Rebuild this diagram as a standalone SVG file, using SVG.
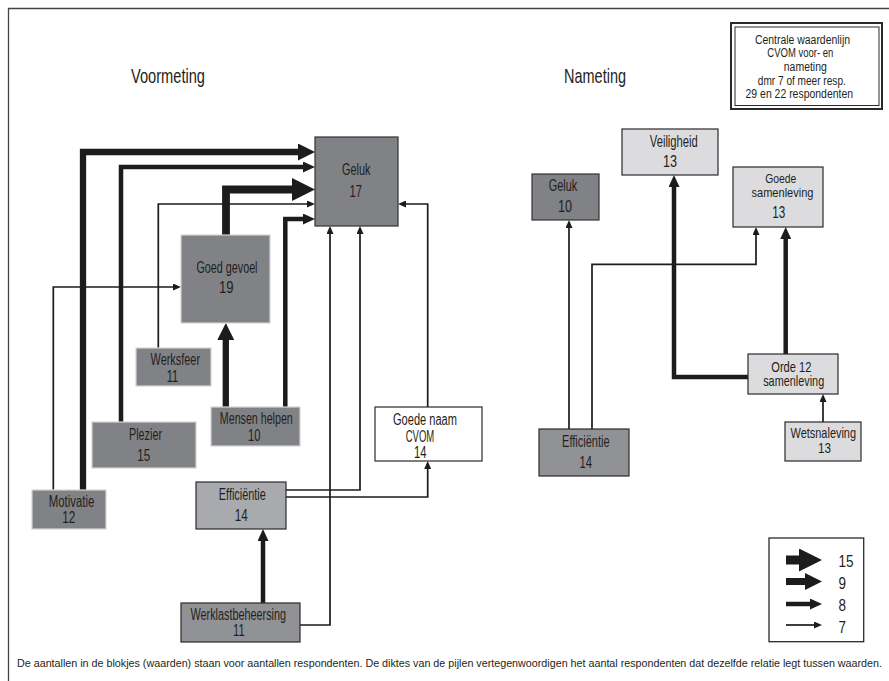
<svg xmlns="http://www.w3.org/2000/svg" width="889" height="681" viewBox="0 0 889 681">
  <style>
    .t { font-family: "Liberation Sans", Arial, sans-serif; font-size: 16px; fill: #231f20; text-anchor: middle; }
    .tight { font-size: 13.5px; }
    .snug { font-size: 14.5px; }
    .title { font-size: 21px; }
    .small { font-size: 12.5px; }
    .foot { font-size: 10.4px; text-anchor: start; }
    .legnum { font-size: 16px; text-anchor: start; }
    .dark { fill: #818286; stroke: #d4d4d6; stroke-width: 1.2; }
    .darkb { fill: #818286; stroke: #333335; stroke-width: 1.2; }
    .mid { fill: #919295; stroke: #2a2a2c; stroke-width: 1.2; }
    .midl { fill: #a9aaad; stroke: #2a2a2c; stroke-width: 1.2; }
    .light { fill: #dcdcde; stroke: #2a2a2c; stroke-width: 1.2; }
    .white { fill: #ffffff; stroke: #2a2a2c; stroke-width: 1.2; }
    .c { fill: none; stroke: #1c1c1c; stroke-linejoin: miter; stroke-linecap: butt; }
    .w15 { stroke-width: 7.8; marker-end: url(#h15); }
    .w9 { stroke-width: 6.3; marker-end: url(#h9); }
    .w8 { stroke-width: 4.5; marker-end: url(#h8); }
    .w7 { stroke-width: 1.7; marker-end: url(#h7); }
  </style>
  <defs>
    <!-- arrowheads per weight class; head base sits just behind the path end -->
    <marker id="h15" markerUnits="userSpaceOnUse" viewBox="0 0 23 23" markerWidth="23" markerHeight="23" refX="1" refY="11.5" orient="auto">
      <path d="M0,0 L23,11.5 L0,23 z" fill="#1c1c1c"/>
    </marker>
    <marker id="h9" markerUnits="userSpaceOnUse" viewBox="0 0 17 17" markerWidth="17" markerHeight="17" refX="1" refY="8.5" orient="auto">
      <path d="M0,0 L17,8.5 L0,17 z" fill="#1c1c1c"/>
    </marker>
    <marker id="h8" markerUnits="userSpaceOnUse" viewBox="0 0 12 11" markerWidth="12" markerHeight="11" refX="1" refY="5.5" orient="auto">
      <path d="M0,0 L12,5.5 L0,11 z" fill="#1c1c1c"/>
    </marker>
    <marker id="h7" markerUnits="userSpaceOnUse" viewBox="0 0 8 7" markerWidth="8" markerHeight="7" refX="1" refY="3.5" orient="auto">
      <path d="M0,0 L8,3.5 L0,7 z" fill="#1c1c1c"/>
    </marker>
  </defs>

  <rect width="889" height="681" fill="#ffffff"/>
  <!-- page frame (top and left edges) -->
  <path d="M8.5,681 V8.5 H889" fill="none" stroke="#444446" stroke-width="1.3"/>

  <text class="t title" x="168" y="83" textLength="74" lengthAdjust="spacingAndGlyphs">Voormeting</text>
  <text class="t title" x="595" y="83" textLength="62" lengthAdjust="spacingAndGlyphs">Nameting</text>

  <!-- header box -->
  <g id="info">
    <rect x="731" y="23" width="151" height="86" fill="#fff" stroke="#2a2a2c" stroke-width="2"/>
    <rect x="735" y="27" width="144" height="78.5" fill="none" stroke="#2a2a2c" stroke-width="1"/>
    <text class="t small" x="802.5" y="44" textLength="95" lengthAdjust="spacingAndGlyphs">Centrale waardenlijn</text>
    <text class="t small" x="800.3" y="57.3" textLength="66" lengthAdjust="spacingAndGlyphs">CVOM voor- en</text>
    <text class="t small" x="805.3" y="71.3" textLength="43" lengthAdjust="spacingAndGlyphs">nameting</text>
    <text class="t small" x="801.8" y="84.7" textLength="88" lengthAdjust="spacingAndGlyphs">dmr 7 of meer resp.</text>
    <text class="t small" x="799.3" y="98" textLength="107.5" lengthAdjust="spacingAndGlyphs">29 en 22 respondenten</text>
  </g>

  <!-- connectors -->
  <g id="connectors">
    <path class="c w9" d="M83,490 V152 H299"/>
    <path class="c w8" d="M121,422 V167 H304"/>
    <path class="c w15" d="M226,235 V189.5 H293"/>
    <path class="c w7" d="M158.3,348 V204 H308"/>
    <path class="c w8" d="M285.3,407 V219 H304"/>
    <path class="c w7" d="M300,625 H330 V233"/>
    <path class="c w7" d="M286,490 H360 V233"/>
    <path class="c w7" d="M427.7,407 V204 H405"/>
    <path class="c w7" d="M286,497 H427.7 V468"/>
    <path class="c w7" d="M53.3,490 V287 H174"/>
    <path class="c w9" d="M225.8,407 V339"/>
    <path class="c w8" d="M263,603 V540"/>

    <path class="c w7" d="M569,429 V227"/>
    <path class="c w7" d="M592,429 V264.3 H756 V234"/>
    <path class="c w8" d="M748,377 H674 V186"/>
    <path class="c w8" d="M785.7,354 V238"/>
    <path class="c w7" d="M823,422 V401"/>
  </g>

  <!-- Voormeting nodes -->
  <g id="geluk-voor">
    <rect class="darkb" x="315" y="137" width="83" height="89"/>
    <text class="t" x="356.2" y="175" textLength="28.5" lengthAdjust="spacingAndGlyphs">Geluk</text>
    <text class="t" x="355.8" y="196.7" textLength="12.5" lengthAdjust="spacingAndGlyphs">17</text>
  </g>
  <g id="goed-gevoel">
    <rect class="dark" x="181" y="235" width="89" height="88"/>
    <text class="t" x="227" y="273" textLength="61" lengthAdjust="spacingAndGlyphs">Goed gevoel</text>
    <text class="t" x="226.3" y="293.3" textLength="14.5" lengthAdjust="spacingAndGlyphs">19</text>
  </g>
  <g id="werksfeer">
    <rect class="dark" x="136" y="348" width="75" height="38"/>
    <text class="t" x="175.3" y="365" textLength="49.5" lengthAdjust="spacingAndGlyphs">Werksfeer</text>
    <text class="t" x="172.5" y="381.7" textLength="11.5" lengthAdjust="spacingAndGlyphs">11</text>
  </g>
  <g id="plezier">
    <rect class="dark" x="92" y="422" width="104" height="46"/>
    <text class="t" x="145.5" y="440" textLength="33" lengthAdjust="spacingAndGlyphs">Plezier</text>
    <text class="t" x="143.7" y="461" textLength="13" lengthAdjust="spacingAndGlyphs">15</text>
  </g>
  <g id="mensen-helpen">
    <rect class="dark" x="211" y="407" width="89" height="39"/>
    <text class="t" x="256.3" y="424" textLength="73" lengthAdjust="spacingAndGlyphs">Mensen helpen</text>
    <text class="t" x="254.2" y="440.7" textLength="12.5" lengthAdjust="spacingAndGlyphs">10</text>
  </g>
  <g id="motivatie">
    <rect class="dark" x="32" y="490" width="74" height="39"/>
    <text class="t" x="71.5" y="506.7" textLength="45.5" lengthAdjust="spacingAndGlyphs">Motivatie</text>
    <text class="t" x="68.8" y="522.7" textLength="13" lengthAdjust="spacingAndGlyphs">12</text>
  </g>
  <g id="goede-naam">
    <rect class="white" x="375" y="407" width="107" height="54"/>
    <text class="t" x="425" y="425" textLength="64" lengthAdjust="spacingAndGlyphs">Goede naam</text>
    <text class="t" x="420" y="441.7" textLength="28.5" lengthAdjust="spacingAndGlyphs">CVOM</text>
    <text class="t" x="420.2" y="458.3" textLength="12.5" lengthAdjust="spacingAndGlyphs">14</text>
  </g>
  <g id="efficientie-voor">
    <rect class="midl" x="196" y="482" width="90" height="47"/>
    <text class="t" x="242.3" y="500" textLength="47" lengthAdjust="spacingAndGlyphs">Efficiëntie</text>
    <text class="t" x="241.2" y="520.7" textLength="13" lengthAdjust="spacingAndGlyphs">14</text>
  </g>
  <g id="werklastbeheersing">
    <rect class="mid" x="181" y="603" width="119" height="39"/>
    <text class="t" x="238.3" y="620" textLength="95.5" lengthAdjust="spacingAndGlyphs">Werklastbeheersing</text>
    <text class="t" x="238.8" y="636" textLength="11.5" lengthAdjust="spacingAndGlyphs">11</text>
  </g>

  <!-- Nameting nodes -->
  <g id="veiligheid">
    <rect class="light" x="622" y="129" width="96" height="46"/>
    <text class="t" x="673.8" y="146.7" textLength="48" lengthAdjust="spacingAndGlyphs">Veiligheid</text>
    <text class="t" x="670" y="167.3" textLength="14" lengthAdjust="spacingAndGlyphs">13</text>
  </g>
  <g id="geluk-na">
    <rect class="darkb" x="532" y="174" width="67" height="46"/>
    <text class="t" x="563" y="190.7" textLength="28.5" lengthAdjust="spacingAndGlyphs">Geluk</text>
    <text class="t" x="565" y="212.3" textLength="14" lengthAdjust="spacingAndGlyphs">10</text>
  </g>
  <g id="goede-samenleving">
    <rect class="light" x="733" y="167" width="90" height="60"/>
    <text class="t tight" x="780.8" y="183.3" textLength="31" lengthAdjust="spacingAndGlyphs">Goede</text>
    <text class="t tight" x="782.5" y="197.3" textLength="62" lengthAdjust="spacingAndGlyphs">samenleving</text>
    <text class="t" x="778.7" y="218.3" textLength="13" lengthAdjust="spacingAndGlyphs">13</text>
  </g>
  <g id="orde-samenleving">
    <rect class="light" x="748" y="354" width="90" height="40"/>
    <text class="t snug" x="791.3" y="371.7" textLength="40" lengthAdjust="spacingAndGlyphs">Orde 12</text>
    <text class="t snug" x="793.7" y="386" textLength="61" lengthAdjust="spacingAndGlyphs">samenleving</text>
  </g>
  <g id="wetsnaleving">
    <rect class="light" x="785" y="422" width="76" height="39"/>
    <text class="t snug" x="823.3" y="438.3" textLength="65.5" lengthAdjust="spacingAndGlyphs">Wetsnaleving</text>
    <text class="t snug" x="824.5" y="453.3" textLength="13" lengthAdjust="spacingAndGlyphs">13</text>
  </g>
  <g id="efficientie-na">
    <rect class="mid" x="539" y="429" width="90" height="47"/>
    <text class="t" x="585.8" y="446.7" textLength="47.5" lengthAdjust="spacingAndGlyphs">Efficiëntie</text>
    <text class="t" x="585.8" y="467.7" textLength="12.5" lengthAdjust="spacingAndGlyphs">14</text>
  </g>

  <!-- weight legend -->
  <g id="legend">
    <rect x="769" y="538" width="94.7" height="103.7" fill="#fff" stroke="#2a2a2c" stroke-width="1.3"/>
    <path class="c w15" d="M786,560 H800" style="stroke-width:9"/>
    <path class="c w9" d="M786,581.5 H806" style="stroke-width:7"/>
    <path class="c w8" d="M786,604 H811"/>
    <path class="c w7" d="M786,625 H815"/>
    <text class="t legnum" x="838.5" y="567" textLength="15" lengthAdjust="spacingAndGlyphs">15</text>
    <text class="t legnum" x="838.5" y="589" textLength="7.5" lengthAdjust="spacingAndGlyphs">9</text>
    <text class="t legnum" x="838.5" y="611" textLength="7.5" lengthAdjust="spacingAndGlyphs">8</text>
    <text class="t legnum" x="838.5" y="633" textLength="7.5" lengthAdjust="spacingAndGlyphs">7</text>
  </g>

  <text class="t foot" x="17" y="667" textLength="865" lengthAdjust="spacingAndGlyphs">De aantallen in de blokjes (waarden) staan voor aantallen respondenten. De diktes van de pijlen vertegenwoordigen het aantal respondenten dat dezelfde relatie legt tussen waarden.</text>
</svg>
